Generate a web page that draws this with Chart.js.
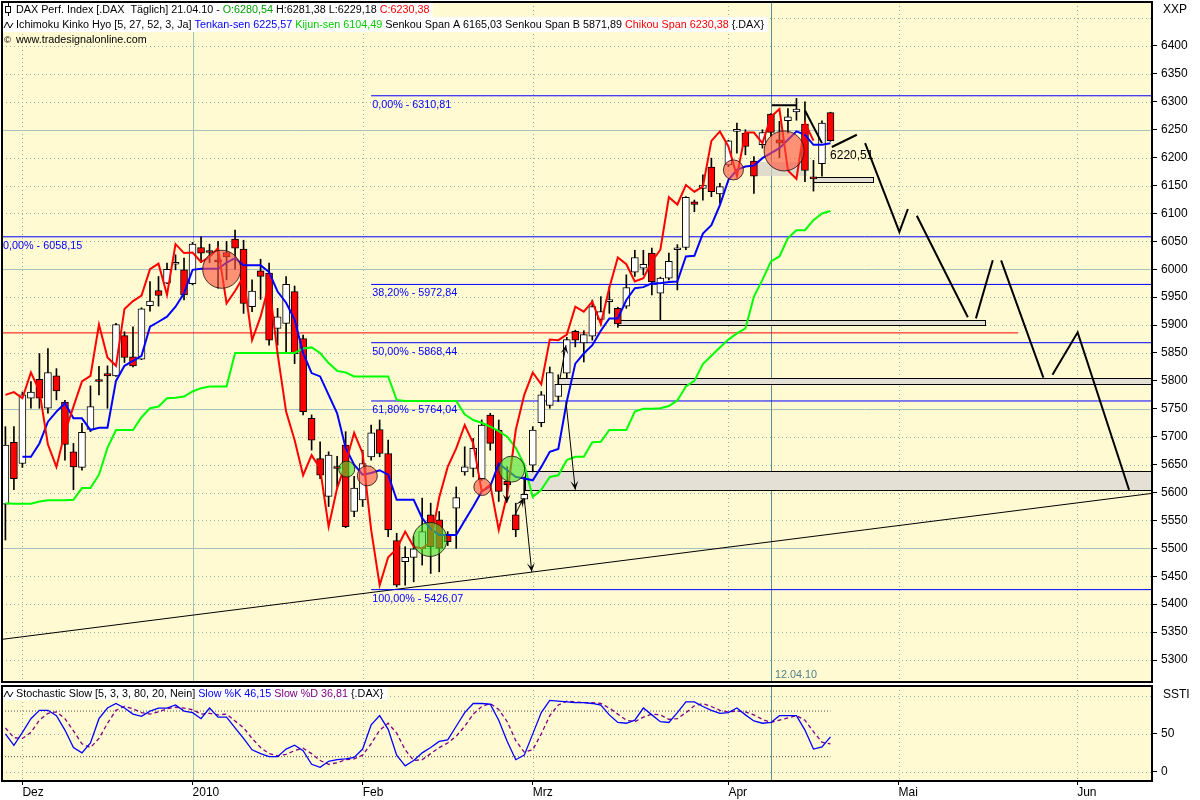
<!DOCTYPE html>
<html>
<head>
<meta charset="utf-8">
<script src="https://cdn.jsdelivr.net/npm/chart.js@4.4.1/dist/chart.umd.min.js"></script>
<style>
  html, body { margin: 0; padding: 0; background: #fff; }
  #wrap { position: relative; width: 1200px; height: 800px; overflow: hidden; }
  #priceCanvas { position: absolute; left: 0; top: 0; }
  #stochCanvas { position: absolute; left: 0; top: 684px; }
</style>
</head>
<body>
<div id="wrap">
  <canvas id="priceCanvas" width="1200" height="684"></canvas>
  <canvas id="stochCanvas" width="1200" height="116"></canvas>
</div>
<script>
// DAX daily, 26.11.09 .. 21.04.10 (trading day index, 0 = 01.12.09)
const firstIdx = -2;

const openP = [
  5579, 5690, 5652, 5769, 5803, 5751, 5809, 5762, 5673, 5645,
  5713, 5801, 5813, 5809, 5881, 5843, 5839, 5935, 5962, 5975,
  6009, 5999, 5974, 6039, 6031, 6017, 6030, 6054, 6036, 5933,
  5997, 5993, 5894, 5903, 5960, 5876, 5733, 5661, 5593, 5645,
  5685, 5566, 5587, 5664, 5713, 5670, 5514, 5476, 5484, 5500,
  5560, 5551, 5524, 5572, 5637, 5643, 5625, 5739, 5712, 5620,
  5560, 5588, 5649, 5725, 5756, 5772, 5814, 5889, 5868, 5880,
  5910, 5942, 5930, 5934, 5995, 6002, 6029, 5957, 5984, 6035,
  6039, 6121, 6145, 6183, 6135, 6187, 6247, 6244, 6194, 6223,
  6278, 6232, 6266, 6282, 6260, 6165, 6189, 6280.54
];
const highP = [
  5718, 5718, 5780, 5799, 5849, 5858, 5822, 5765, 5688, 5724,
  5791, 5826, 5827, 5903, 5888, 5897, 5931, 5978, 5987, 6011,
  6026, 6020, 6048, 6058, 6045, 6050, 6050, 6070, 6052, 5981,
  6018, 6011, 5930, 5987, 5970, 5882, 5739, 5691, 5673, 5665,
  5709, 5629, 5676, 5721, 5730, 5694, 5527, 5503, 5521, 5590,
  5581, 5566, 5530, 5610, 5682, 5697, 5730, 5742, 5730, 5646,
  5581, 5628, 5718, 5781, 5825, 5811, 5878, 5891, 5890, 5945,
  5951, 5969, 5932, 5990, 6034, 6034, 6038, 5986, 6029, 6044,
  6130, 6124, 6169, 6199, 6154, 6231, 6262, 6250, 6202, 6250,
  6279, 6265, 6288, 6306, 6300, 6195, 6266, 6281.38
];
const lowP = [
  5515, 5605, 5645, 5751, 5751, 5742, 5766, 5658, 5605, 5640,
  5709, 5775, 5751, 5808, 5833, 5825, 5838, 5925, 5934, 5974,
  5999, 5945, 5972, 6012, 6012, 5966, 5981, 6000, 5921, 5924,
  5946, 5864, 5864, 5849, 5831, 5739, 5676, 5625, 5575, 5610,
  5537, 5557, 5575, 5658, 5664, 5521, 5431, 5434, 5440, 5470,
  5455, 5458, 5505, 5500, 5631, 5628, 5622, 5676, 5584, 5587,
  5521, 5581, 5637, 5718, 5751, 5763, 5805, 5861, 5834, 5873,
  5900, 5921, 5896, 5930, 5987, 5990, 5954, 5909, 5981, 5963,
  6035, 6103, 6124, 6130, 6118, 6184, 6208, 6205, 6136, 6217,
  6238, 6200, 6244, 6267, 6157, 6140, 6167, 6229.18
];
const closeP = [
  5685, 5625, 5775, 5780, 5769, 5815, 5782, 5686, 5646, 5708,
  5754, 5799, 5809, 5901, 5842, 5827, 5929, 5943, 5953, 6000,
  6010, 5954, 6045, 6029, 6030, 6013, 6022, 6038, 5939, 5961,
  5987, 5873, 5915, 5973, 5849, 5745, 5694, 5631, 5667, 5643,
  5539, 5608, 5652, 5707, 5670, 5533, 5434, 5484, 5499, 5530,
  5503, 5500, 5512, 5591, 5646, 5679, 5721, 5688, 5602, 5614,
  5533, 5597, 5712, 5775, 5815, 5794, 5874, 5873, 5883, 5933,
  5924, 5942, 5902, 5967, 6021, 6009, 5978, 5984, 6014, 6035,
  6129, 6116, 6151, 6139, 6148, 6230, 6247, 6220, 6167, 6245,
  6245, 6226, 6273, 6287, 6177, 6162, 6262, 6230.38
];

// Ichimoku lines
const tenkan = [
  null, null, 5664, 5664, 5688, 5727, 5745, 5760, 5733, 5733,
  5712, 5716, 5716, 5800, 5827, 5836, 5845, 5897, 5906, 5915,
  5933, 5957, 5999, 6001, 6001, 6001, 6012, 6020, 6007, 6007,
  6007, 5995, 5960, 5940, 5910, 5850, 5814, 5808, 5775, 5742,
  5680, 5650, 5632, 5635, 5640, 5632, 5587, 5587, 5587, 5554,
  5535, 5524, 5524, 5524, 5550, 5575, 5602, 5611, 5652, 5640,
  5628, 5625, 5622, 5646, 5673, 5678, 5763, 5831, 5849, 5864,
  5890, 5912, 5912, 5945, 5966, 5968, 5975, 5975, 5977, 5978,
  6023, 6024, 6064, 6079, 6115, 6160, 6178, 6184, 6186, 6199,
  6208, 6217, 6232, 6247, 6241, 6223, 6223, 6225.57
];
const kijun = [
  5581, 5580, 5580, 5580, 5584, 5586, 5586, 5586, 5587, 5608,
  5608, 5632, 5680, 5712, 5712, 5712, 5735, 5751, 5754, 5769,
  5770, 5772, 5781, 5787, 5790, 5790, 5790, 5850, 5850, 5850,
  5850, 5850, 5850, 5850, 5850, 5858, 5860, 5850, 5832, 5818,
  5815, 5808, 5808, 5808, 5808, 5808, 5766, 5764, 5764, 5764,
  5764, 5764, 5764, 5764, 5740, 5730, 5725, 5718, 5710, 5700,
  5680, 5650, 5592, 5605, 5628, 5631, 5658, 5664, 5664, 5690,
  5691, 5712, 5712, 5712, 5745, 5750, 5750, 5751, 5755, 5765,
  5790, 5800, 5830, 5845, 5860, 5874, 5885, 5894, 5951, 5981,
  6014, 6023, 6056, 6070, 6070, 6088, 6100, 6104.49
];
const chikou = [
  5775, 5780, 5769, 5815, 5782, 5686, 5646, 5708, 5754, 5799,
  5809, 5901, 5842, 5827, 5929, 5943, 5953, 6000, 6010, 5954,
  6045, 6029, 6030, 6013, 6022, 6038, 5939, 5961, 5987, 5873,
  5915, 5973, 5849, 5745, 5694, 5631, 5667, 5643, 5539, 5608,
  5652, 5707, 5670, 5533, 5434, 5484, 5499, 5530, 5503, 5500,
  5512, 5591, 5646, 5679, 5721, 5688, 5602, 5614, 5533, 5597,
  5712, 5775, 5815, 5794, 5874, 5873, 5883, 5933, 5924, 5942,
  5902, 5967, 6021, 6009, 5978, 5984, 6014, 6035, 6129, 6116,
  6151, 6139, 6148, 6230, 6247, 6220, 6167, 6245, 6245, 6226,
  6273, 6287, 6177, 6162, 6262, 6230.38, null, null
];

// Stochastic Slow
const stochK = [
  50, 35, 52, 70, 81, 81, 74, 55, 32, 25,
  38, 70, 84, 90, 84, 76, 73, 80, 84, 84,
  88, 80, 78, 70, 84, 72, 72, 58, 44, 29,
  24, 20, 20, 30, 35, 28, 10, 6, 14, 16,
  17, 19, 30, 62, 74, 56, 22, 8, 15, 25,
  32, 40, 42, 60, 78, 90, 90, 89, 68, 40,
  16, 22, 50, 78, 94, 93, 92, 91, 91, 90,
  88, 75, 65, 64, 68, 84, 75, 66, 65, 78,
  92, 92, 86, 81, 77, 78, 84, 75, 67, 64,
  65, 74, 74, 74, 55, 30, 33, 46.15
];
const stochD = [
  58, 45, 44, 52, 68, 77, 79, 70, 54, 37,
  32, 44, 64, 81, 86, 83, 78, 76, 79, 83,
  85, 84, 82, 76, 77, 75, 76, 67, 58, 44,
  32, 24, 21, 23, 28, 31, 24, 15, 10, 12,
  16, 17, 22, 37, 55, 64, 51, 29, 15, 16,
  24, 32, 38, 47, 60, 76, 86, 90, 82, 66,
  41, 26, 29, 50, 74, 88, 93, 92, 91, 91,
  90, 84, 76, 68, 66, 72, 76, 75, 69, 70,
  78, 87, 90, 86, 81, 79, 80, 79, 75, 69,
  65, 68, 71, 74, 68, 53, 39, 36.81
];
const stochLevels = [80, 20];

// axes
const xMin = -2.4, xMax = 132.8;
const priceMin = 5260.6, priceMax = 6478.8;
const priceTicks = [5300, 5350, 5400, 5450, 5500, 5550, 5600, 5650, 5700, 5750, 5800, 5850,
                    5900, 5950, 6000, 6050, 6100, 6150, 6200, 6250, 6300, 6350, 6400];
const priceGridSolid = [5500, 5750, 6000, 6250];
const priceGridDotted = [5300, 5350, 5400, 5450, 5550, 5600, 5650, 5700, 5800, 5850, 5900,
                         5950, 6050, 6100, 6150, 6200, 6300, 6350, 6400, 6450];
const stochTicks = [0, 50];
const stochGridDotted = [0, 50, 100];
const monthIdx = [0, 20, 40, 60, 83, 103, 124];
const monthLabels = ['Dez', '2010', 'Feb', 'Mrz', 'Apr', 'Mai', 'Jun'];
const yearLineIdx = 20;
const cursorIdx = 88;
const cursorLabel = '12.04.10';

// drawing tools on the price chart
const fibStartIdx = 41.0;
const fibLevels = [6310.81, 5972.84, 5868.44, 5764.04, 5426.07];
const fibLabels = ['0,00% - 6310,81', '38,20% - 5972,84', '50,00% - 5868,44', '61,80% - 5764,04', '100,00% - 5426,07'];
const fibLeftLevel = 6058.15;
const fibLeftLabel = '0,00% - 6058,15';
const redLevel = 5886;
const redLevelEnd = 117.06;
const trendIdx = [-2.4, 132.8];
const trendPrice = [5337, 5598.5];

const boxStart = [70.03, 62.98, 59.09, 85.78, 92.95];
const boxEnd   = [113.2, 132.8, 132.8, 92.25, 100.0];
const boxLow   = [5900, 5795, 5605, 6167, 6157];
const boxHigh  = [5909, 5806, 5638, 6192, 6166];
const boxOutlined = [true, true, true, false, true];

const forecastPaths = [
  [[88.1, 6294], [91.03, 6294]],
  [[92.02, 6284], [94.0, 6226]],
  [[95.16, 6219], [98.1, 6241]],
  [[99.07, 6226], [103.1, 6067], [104.1, 6108]],
  [[105.15, 6096], [111.15, 5914]],
  [[112.1, 5912], [114.08, 6016]],
  [[115.06, 6016], [120.03, 5806]],
  [[121.1, 5811], [124.06, 5887], [130.1, 5605]]
];

const arrowFromIdx = [63.9, 59.0, 56.94, 57.92, 63.2];
const arrowFromP   = [5763, 5590, 5617, 5560, 5804];
const arrowToIdx   = [65.0, 59.88, 56.94, 58.9, 63.9];
const arrowToP     = [5605, 5458, 5581, 5590, 5864];

const circleIdx   = [23.43, 38.13, 40.55, 47.92, 54.07, 57.53, 83.59, 89.55];
const circlePrice = [6000, 5642, 5630, 5516, 5610, 5642, 6178, 6212];
const circleKind  = ['r', 'g', 'r', 'g', 'r', 'g', 'r', 'r'];
const circleRadius = [19, 8, 10, 17, 8.5, 13, 10, 20];

const lastPriceIdx = 94.95;
const lastPriceY = 6203;
const lastPriceText = '6220,51';

// ---------------------------------------------------------------
const FONT = '"Liberation Sans", Arial, sans-serif';
const PLOT_BG = '#fffad2';
const DOT_COL = '#8fb2b0';
const SOLID_COL = '#a9c1bb';

const pts = arr => arr.map((v, k) => ({ x: firstIdx + k, y: v }));

function hline(ctx, x0, x1, y) {
  const yy = Math.round(y) + 0.5;
  ctx.beginPath(); ctx.moveTo(x0, yy); ctx.lineTo(x1, yy); ctx.stroke();
}
function vline(ctx, x, y0, y1) {
  const xx = Math.round(x) + 0.5;
  ctx.beginPath(); ctx.moveTo(xx, y0); ctx.lineTo(xx, y1); ctx.stroke();
}

function drawGrid(chart, dotted, solid) {
  const ctx = chart.ctx, a = chart.chartArea;
  const xs = chart.scales.x, ys = chart.scales.y;
  ctx.save();
  ctx.fillStyle = PLOT_BG;
  ctx.fillRect(a.left, a.top, a.right - a.left, a.bottom - a.top);
  ctx.lineWidth = 1;
  ctx.strokeStyle = DOT_COL;
  ctx.setLineDash([1, 3]);
  dotted.forEach(v => hline(ctx, a.left, a.right, ys.getPixelForValue(v)));
  monthIdx.forEach(m => { if (m !== yearLineIdx) vline(ctx, xs.getPixelForValue(m), a.top, a.bottom); });
  ctx.setLineDash([]);
  ctx.strokeStyle = SOLID_COL;
  solid.forEach(v => hline(ctx, a.left, a.right, ys.getPixelForValue(v)));
  vline(ctx, xs.getPixelForValue(yearLineIdx), a.top, a.bottom);
  ctx.strokeStyle = '#5b8f90';
  vline(ctx, xs.getPixelForValue(cursorIdx), a.top, a.bottom);
  ctx.restore();
}

function drawSegs(ctx, x, y, segs) {
  segs.forEach(s => {
    ctx.fillStyle = s[1];
    ctx.fillText(s[0], x, y);
    x += ctx.measureText(s[0]).width;
  });
  return x;
}

function waveIcon(ctx, x, y) {
  ctx.save();
  ctx.strokeStyle = '#000'; ctx.lineWidth = 1;
  ctx.beginPath();
  ctx.moveTo(x, y + 3); ctx.lineTo(x + 3, y - 3); ctx.lineTo(x + 6, y + 3); ctx.lineTo(x + 9, y - 2);
  ctx.stroke();
  ctx.restore();
}

function arrow(ctx, x0, y0, x1, y1) {
  ctx.beginPath(); ctx.moveTo(x0, y0); ctx.lineTo(x1, y1); ctx.stroke();
  const ang = Math.atan2(y1 - y0, x1 - x0);
  const L = 9, W = 4;
  const dx = Math.cos(ang), dy = Math.sin(ang);
  ctx.beginPath();
  ctx.moveTo(x1, y1);
  ctx.lineTo(x1 - L * dx - W * dy, y1 - L * dy + W * dx);
  ctx.lineTo(x1 - 0.5 * L * dx, y1 - 0.5 * L * dy);
  ctx.lineTo(x1 - L * dx + W * dy, y1 - L * dy - W * dx);
  ctx.closePath();
  ctx.fill();
}

// vertical axes: no half-label padding at top/bottom
function noVertPadding(s) { s.width = 48; s.paddingTop = 0; s.paddingBottom = 0; }

const headerLine1 = [['DAX Perf. Index [.DAX  Täglich] 21.04.10 - ', '#000'], ['O:6280,54', '#009c00'],
                     [' H:6281,38 L:6229,18 ', '#000'], ['C:6230,38', '#ff0000']];
const headerLine2 = [['Ichimoku Kinko Hyo [5, 27, 52, 3, Ja] ', '#000'], ['Tenkan-sen 6225,57', '#0000ff'], [' ', '#000'],
                     ['Kijun-sen 6104,49', '#00cc00'], [' Senkou Span A 6165,03 Senkou Span B 5871,89 ', '#000'],
                     ['Chikou Span 6230,38', '#ff0000'], [' {.DAX}', '#000']];
const headerLine3 = [['www.tradesignalonline.com', '#000']];
const stochHeader = [['Stochastic Slow [5, 3, 3, 80, 20, Nein] ', '#000'], ['Slow %K 46,15', '#0000ff'], [' ', '#000'],
                     ['Slow %D 36,81', '#800080'], [' {.DAX}', '#000']];

let headerSize = 11;
(function fitHeader() {
  const c = document.createElement('canvas').getContext('2d');
  c.font = '11px ' + FONT;
  const w = c.measureText(headerLine2.map(s => s[0]).join('')).width;
  headerSize = Math.max(9, Math.min(12, 11 * 749 / w));
})();

// ---------------- price chart plugins ----------------
const pricePlugin = {
  id: 'priceDecor',
  beforeDraw(chart) {
    const ctx = chart.ctx;
    ctx.save(); ctx.fillStyle = '#fff'; ctx.fillRect(0, 0, chart.width, chart.height); ctx.restore();
  },
  beforeDatasetsDraw(chart) {
    drawGrid(chart, priceGridDotted, priceGridSolid);
    const ctx = chart.ctx, xs = chart.scales.x, ys = chart.scales.y, a = chart.chartArea;
    ctx.save();
    ctx.beginPath(); ctx.rect(a.left, a.top, a.right - a.left, a.bottom - a.top); ctx.clip();
    boxStart.forEach((s, k) => {
      const x0 = xs.getPixelForValue(s), x1 = xs.getPixelForValue(boxEnd[k]);
      const y0 = Math.round(ys.getPixelForValue(boxHigh[k])), y1 = Math.round(ys.getPixelForValue(boxLow[k]));
      ctx.fillStyle = boxOutlined[k] ? '#e4e0d6' : 'rgba(214,210,200,0.75)';
      ctx.fillRect(x0, y0, x1 - x0, y1 - y0);
      if (boxOutlined[k]) {
        ctx.strokeStyle = '#000'; ctx.lineWidth = 1;
        ctx.strokeRect(Math.round(x0) + 0.5, y0 + 0.5, Math.round(x1 - x0), y1 - y0);
      }
    });
    ctx.restore();
  },
  afterDatasetsDraw(chart) {
    const ctx = chart.ctx, xs = chart.scales.x, ys = chart.scales.y, a = chart.chartArea;
    ctx.save();
    ctx.beginPath(); ctx.rect(a.left, a.top, a.right - a.left, a.bottom - a.top); ctx.clip();
    ctx.strokeStyle = '#000'; ctx.fillStyle = '#000'; ctx.lineWidth = 1;
    arrowFromIdx.forEach((s, k) => {
      arrow(ctx, xs.getPixelForValue(s), ys.getPixelForValue(arrowFromP[k]),
                 xs.getPixelForValue(arrowToIdx[k]), ys.getPixelForValue(arrowToP[k]));
    });
    ctx.font = headerSize + 'px ' + FONT;
    ctx.textBaseline = 'middle';
    ctx.fillStyle = '#0000ff';
    fibLevels.forEach((v, k) => {
      ctx.fillText(fibLabels[k], xs.getPixelForValue(fibStartIdx) + 1, ys.getPixelForValue(v) + 9);
    });
    ctx.fillText(fibLeftLabel, a.left + 1, ys.getPixelForValue(fibLeftLevel) + 9);
    ctx.fillStyle = '#000';
    ctx.font = '12px ' + FONT;
    ctx.fillText(lastPriceText, xs.getPixelForValue(lastPriceIdx), ys.getPixelForValue(lastPriceY));
    ctx.fillStyle = '#4f7f88';
    ctx.font = headerSize + 'px ' + FONT;
    ctx.fillText(cursorLabel, xs.getPixelForValue(cursorIdx) + 4, a.bottom - 7);
    ctx.restore();
  },
  afterDraw(chart) {
    const ctx = chart.ctx, a = chart.chartArea;
    ctx.save();
    ctx.font = headerSize + 'px ' + FONT;
    ctx.textBaseline = 'middle';
    const w1 = ctx.measureText(headerLine1.map(s => s[0]).join('')).width;
    const w2 = ctx.measureText(headerLine2.map(s => s[0]).join('')).width;
    ctx.fillStyle = '#fff';
    ctx.fillRect(a.left, a.top, w1 + 17, 15);
    ctx.fillRect(a.left, a.top + 15, w2 + 18, 15);
    // candle icon
    ctx.strokeStyle = '#000'; ctx.lineWidth = 1;
    vline(ctx, 8, 3, 16);
    ctx.fillStyle = '#fff';
    ctx.fillRect(5.5, 6.5, 5, 6); ctx.strokeRect(5.5, 6.5, 5, 6);
    drawSegs(ctx, 16, 10, headerLine1);
    waveIcon(ctx, 4, 25);
    drawSegs(ctx, 16, 25, headerLine2);
    ctx.fillStyle = '#000';
    ctx.font = (headerSize - 1) + 'px ' + FONT;
    ctx.fillText('©', 4, 40);
    ctx.font = headerSize + 'px ' + FONT;
    drawSegs(ctx, 16, 40, headerLine3);
    ctx.font = '12px ' + FONT;
    ctx.fillStyle = '#000';
    ctx.fillText('XXP', 1163, 10);
    ctx.strokeStyle = '#000'; ctx.lineWidth = 2;
    ctx.strokeRect(a.left, a.top, a.right - a.left, a.bottom - a.top);
    ctx.restore();
  }
};

// ---------------- price chart datasets ----------------
const bodyData = openP.map((o, k) => ({ x: firstIdx + k, y: [Math.min(o, closeP[k]), Math.max(o, closeP[k])] }));
const bodyColors = openP.map((o, k) => closeP[k] >= o ? '#ffffff' : '#ff0000');
const wickData = lowP.map((l, k) => ({ x: firstIdx + k, y: [l, highP[k]] }));

const forecastData = [];
forecastPaths.forEach(path => {
  path.forEach(p => forecastData.push({ x: p[0], y: p[1] }));
  forecastData.push({ x: path[path.length - 1][0], y: null });
});

const fibData = [];
fibLevels.forEach(v => {
  fibData.push({ x: fibStartIdx, y: v }, { x: xMax, y: v }, { x: xMax, y: null });
});
fibData.push({ x: xMin, y: fibLeftLevel }, { x: xMax, y: fibLeftLevel });

const circleData = circleIdx.map((c, k) => ({ x: c, y: circlePrice[k] }));
const circleFill = circleKind.map(t => t === 'r' ? 'rgba(255,80,60,0.62)' : 'rgba(70,225,40,0.62)');

new Chart(document.getElementById('priceCanvas'), {
  type: 'bar',
  data: {
    datasets: [
      { type: 'scatter', data: circleData, order: 0, pointRadius: circleRadius,
        pointBackgroundColor: circleFill, pointBorderColor: 'rgba(40,20,20,0.85)', pointBorderWidth: 1 },
      { type: 'line', data: pts(chikou), order: 1, borderColor: '#ff0000', borderWidth: 2, pointRadius: 0, tension: 0 },
      { type: 'line', data: pts(tenkan), order: 2, borderColor: '#0000ff', borderWidth: 2, pointRadius: 0, tension: 0 },
      { type: 'line', data: pts(kijun), order: 3, borderColor: '#00ff00', borderWidth: 2, pointRadius: 0, tension: 0 },
      { type: 'line', data: forecastData, order: 4, borderColor: '#000', borderWidth: 2, pointRadius: 0,
        tension: 0, spanGaps: false },
      { type: 'bar', data: bodyData, order: 5, backgroundColor: bodyColors, borderColor: '#000', borderWidth: 1,
        borderSkipped: false, barThickness: 7, minBarLength: 2, grouped: false },
      { type: 'bar', data: wickData, order: 6, backgroundColor: '#000', borderWidth: 0,
        barThickness: 1, grouped: false },
      { type: 'line', data: fibData, order: 7, borderColor: '#0000ff', borderWidth: 1, pointRadius: 0,
        tension: 0, spanGaps: false },
      { type: 'line', data: [{ x: xMin, y: redLevel }, { x: redLevelEnd, y: redLevel }], order: 8,
        borderColor: '#ff0000', borderWidth: 1, pointRadius: 0 },
      { type: 'line', data: [{ x: trendIdx[0], y: trendPrice[0] }, { x: trendIdx[1], y: trendPrice[1] }], order: 8,
        borderColor: '#000', borderWidth: 1, pointRadius: 0 }
    ]
  },
  options: {
    responsive: false,
    animation: false,
    events: [],
    layout: { autoPadding: false, padding: { left: 2, top: 2, right: 0, bottom: 2 } },
    plugins: { legend: { display: false }, tooltip: { enabled: false } },
    scales: {
      x: { type: 'linear', min: xMin, max: xMax, offset: false, display: false },
      y: {
        type: 'linear', position: 'right', min: priceMin, max: priceMax,
        afterBuildTicks: s => { s.ticks = priceTicks.map(v => ({ value: v })); },
        afterFit: noVertPadding,
        grid: { drawOnChartArea: false, drawTicks: true, tickLength: 5, tickColor: '#000', tickWidth: 1 },
        border: { display: false },
        ticks: { autoSkip: false, padding: 4, color: '#000', font: { family: FONT, size: 12 },
                 callback: v => String(v) }
      }
    }
  },
  plugins: [pricePlugin]
});

// ---------------- stochastic chart ----------------
const stochPlugin = {
  id: 'stochDecor',
  beforeDraw(chart) {
    const ctx = chart.ctx;
    ctx.save(); ctx.fillStyle = '#fff'; ctx.fillRect(0, 0, chart.width, chart.height); ctx.restore();
  },
  beforeDatasetsDraw(chart) {
    drawGrid(chart, stochGridDotted, []);
  },
  afterDraw(chart) {
    const ctx = chart.ctx, a = chart.chartArea;
    ctx.save();
    ctx.font = headerSize + 'px ' + FONT;
    ctx.textBaseline = 'middle';
    const w = ctx.measureText(stochHeader.map(s => s[0]).join('')).width;
    ctx.fillStyle = '#fff';
    ctx.fillRect(a.left, a.top, w + 18, 14);
    waveIcon(ctx, 4, a.top + 8);
    drawSegs(ctx, 16, a.top + 8, stochHeader);
    ctx.font = '12px ' + FONT;
    ctx.fillStyle = '#000';
    ctx.fillText('SSTI', 1163, a.top + 9);
    ctx.strokeStyle = '#000'; ctx.lineWidth = 2;
    ctx.strokeRect(a.left, a.top, a.right - a.left, a.bottom - a.top);
    ctx.restore();
  }
};

const levelData = [];
stochLevels.forEach(v => {
  levelData.push({ x: xMin, y: v }, { x: firstIdx + stochK.length - 1, y: v }, { x: xMax, y: null });
});

new Chart(document.getElementById('stochCanvas'), {
  type: 'line',
  data: {
    datasets: [
      { data: pts(stochK), borderColor: '#0000ff', borderWidth: 1.3, pointRadius: 0, tension: 0, order: 0 },
      { data: pts(stochD), borderColor: '#800080', borderWidth: 1.3, borderDash: [4, 3], pointRadius: 0,
        tension: 0, order: 1 },
      { data: levelData, borderColor: '#505050', borderWidth: 1, borderDash: [1, 2], pointRadius: 0,
        spanGaps: false, order: 2 }
    ]
  },
  options: {
    responsive: false,
    animation: false,
    events: [],
    layout: { autoPadding: false, padding: { left: 2, top: 2, right: 0, bottom: 0 } },
    plugins: { legend: { display: false }, tooltip: { enabled: false } },
    scales: {
      x: {
        type: 'linear', min: xMin, max: xMax, offset: false,
        afterBuildTicks: s => { s.ticks = monthIdx.map(v => ({ value: v })); },
        afterFit: s => { s.height = 19; s.paddingLeft = 0; s.paddingRight = 0; },
        grid: { drawOnChartArea: false, drawTicks: true, tickLength: 4, tickColor: '#000' },
        border: { display: false },
        ticks: { autoSkip: false, maxRotation: 0, align: 'start', padding: 0, color: '#000',
                 font: { family: FONT, size: 12 }, callback: (v, i) => monthLabels[i] }
      },
      y: {
        type: 'linear', position: 'right', min: -12, max: 113,
        afterBuildTicks: s => { s.ticks = stochTicks.map(v => ({ value: v })); },
        afterFit: noVertPadding,
        grid: { drawOnChartArea: false, drawTicks: true, tickLength: 5, tickColor: '#000' },
        border: { display: false },
        ticks: { autoSkip: false, padding: 4, color: '#000', font: { family: FONT, size: 12 } }
      }
    }
  },
  plugins: [stochPlugin]
});
</script>
</body>
</html>
